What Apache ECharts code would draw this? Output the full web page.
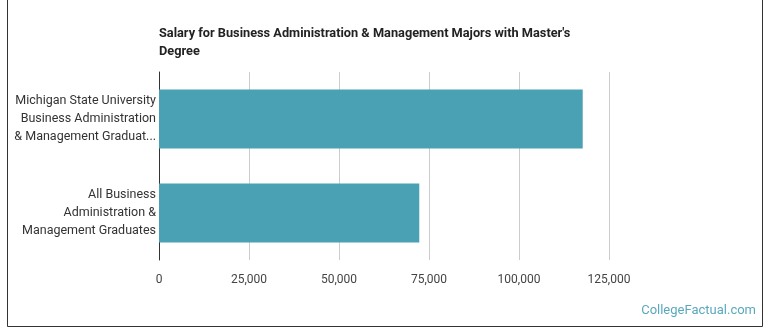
<!DOCTYPE html>
<html><head><meta charset="utf-8">
<script src="https://cdn.jsdelivr.net/npm/echarts@6/dist/echarts.min.js"></script>
<style>html,body{margin:0;padding:0;background:#fff}#c{width:770px;height:335px}</style>
</head><body><div id="c"></div>
<script>
const categories = [
  "Michigan State University\nBusiness Administration\n& Management Graduat...",
  "All Business\nAdministration &\nManagement Graduates"
];
const salaries = [117700, 72300];
const tickValues = [0, 25000, 50000, 75000, 100000, 125000];

const chart = echarts.init(document.getElementById('c'), null, {renderer: 'canvas'});
chart.setOption({
  animation: false,
  title: {
    text: "Salary for Business Administration & Management Majors with Master's\nDegree",
    left: 154, top: 20,
    textStyle: {fontFamily: 'Roboto', fontWeight: 'bold', fontSize: 12.75, color: '#222', lineHeight: 18}
  },
  graphic: [
    {type: 'rect', shape: {x: 7.5, y: -2, width: 755, height: 328.5}, style: {fill: 'none', stroke: '#333', lineWidth: 1}, silent: true},
    {type: 'text', right: 14, top: 304, style: {text: 'CollegeFactual.com', fill: '#5aa8be', font: '13px Roboto'}}
  ],
  grid: {left: 159, top: 72, right: 770 - 609, bottom: 335 - 260, containLabel: false},
  xAxis: {
    type: 'value', min: 0, max: 125000, interval: 25000,
    axisLine: {show: false},
    axisTick: {show: false},
    splitLine: {lineStyle: {color: '#ccc', width: 1}},
    axisLabel: {color: '#444', fontFamily: 'Roboto', fontSize: 12, margin: 14,
      formatter: v => v.toLocaleString('en-US')}
  },
  yAxis: {
    type: 'category', data: categories, inverse: true,
    axisLine: {show: true, lineStyle: {color: '#333'}},
    axisTick: {show: false},
    axisLabel: {color: '#333', fontFamily: 'Roboto', fontSize: 12.5, lineHeight: 18, margin: 3, align: 'right'}
  },
  series: [{
    type: 'bar', data: salaries, barWidth: 59,
    itemStyle: {color: '#4aa1b4'},
    silent: true
  }]
});
</script></body></html>
